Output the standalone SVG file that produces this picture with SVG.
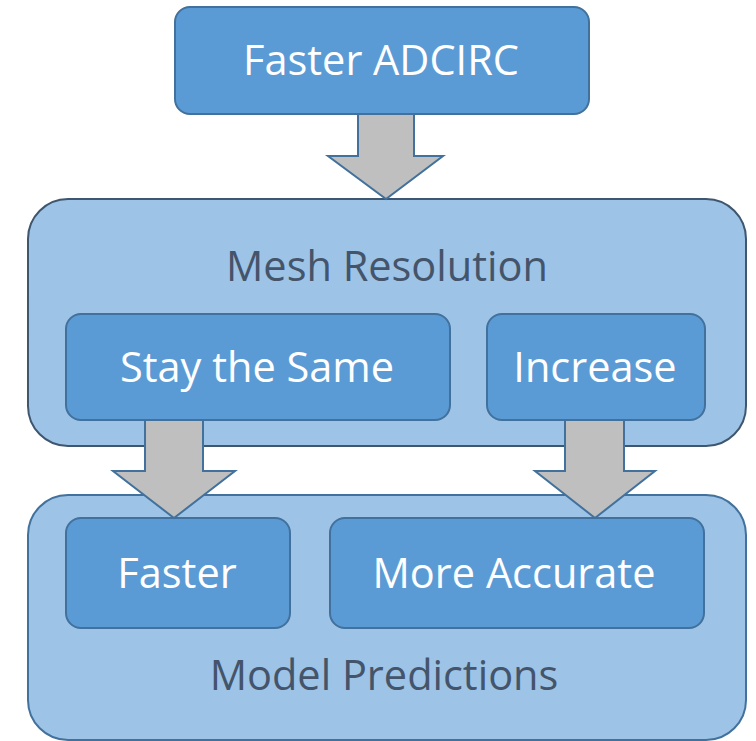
<svg xmlns="http://www.w3.org/2000/svg" width="756" height="741" viewBox="0 0 756 741">
  <style>
    .group { fill: #9DC3E6; stroke: #3F5670; stroke-width: 2; }
    .group2 { fill: #9DC3E6; stroke: #41719C; stroke-width: 2; }
    .box { fill: #5B9BD5; stroke: #41719C; stroke-width: 2; }
    .arrow { fill: #BFBFBF; stroke: #41719C; stroke-width: 2; stroke-linejoin: miter; }
    .lbl { font-family: "Open Sans", "Noto Sans", "Liberation Sans", sans-serif; font-size: 41.5px; fill: #FFFFFF; text-anchor: middle; }
    .glbl { font-family: "Open Sans", "Noto Sans", "Liberation Sans", sans-serif; font-size: 41.5px; fill: #44546A; text-anchor: middle; }
  </style>
  <rect width="756" height="741" fill="#FFFFFF"/>

  <g id="mesh-resolution">
    <rect class="group" x="28" y="199" width="718" height="247" rx="40" ry="40"/>
    <text class="glbl" x="387" y="281">Mesh Resolution</text>
  </g>

  <g id="model-predictions">
    <rect class="group2" x="28" y="495" width="718" height="245" rx="40" ry="40"/>
    <text class="glbl" x="384" y="690">Model Predictions</text>
  </g>

  <g id="faster-adcirc">
    <rect class="box" x="175" y="7" width="414" height="107" rx="15" ry="15"/>
    <text class="lbl" x="381" y="75">Faster ADCIRC</text>
  </g>

  <g id="stay-the-same">
    <rect class="box" x="66" y="314" width="384" height="106" rx="15" ry="15"/>
    <text class="lbl" x="257" y="382">Stay the Same</text>
  </g>

  <g id="increase">
    <rect class="box" x="487" y="314" width="218" height="106" rx="15" ry="15"/>
    <text class="lbl" x="595" y="382">Increase</text>
  </g>

  <g id="faster">
    <rect class="box" x="66" y="518" width="224" height="110" rx="15" ry="15"/>
    <text class="lbl" x="177" y="588">Faster</text>
  </g>

  <g id="more-accurate">
    <rect class="box" x="330" y="518" width="374" height="110" rx="15" ry="15"/>
    <text class="lbl" x="514" y="588">More Accurate</text>
  </g>

  <g id="connectors">
    <path class="arrow" d="M358 114 H414 V156 H443 L386 199 L328 156 H358 Z"/>
    <path class="arrow" d="M145 420 H203 V471 H235 L174 518 L113 471 H145 Z"/>
    <path class="arrow" d="M565 420 H624 V471 H655 L595 518 L535 471 H565 Z"/>
  </g>
</svg>
